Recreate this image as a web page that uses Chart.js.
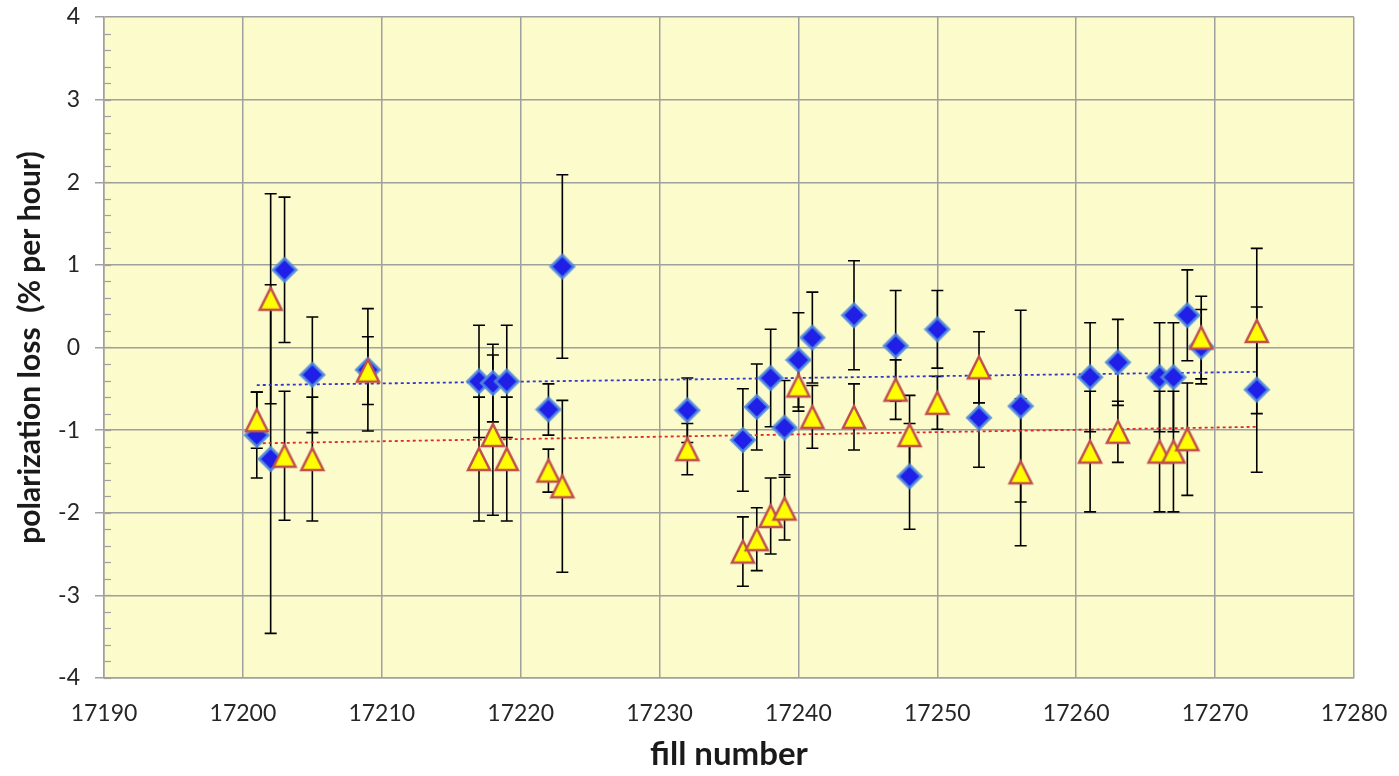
<!DOCTYPE html>
<html lang="en">
<head>
    <meta charset="UTF-8">
    <title>Polarization loss vs fill number</title>
    <script src="https://cdn.jsdelivr.net/npm/chart.js"></script>
    <style>
        body { margin: 0; background: #fff; }
        #wrap { width: 1399px; height: 776px; }
    </style>
</head>
<body>
    <div id="wrap"><canvas id="lossChart" width="1399" height="776"></canvas></div>

    <script>
// fill numbers (same for both series)
const fills = [17201, 17202, 17203, 17205, 17209, 17217, 17218, 17219, 17222, 17223,
               17232, 17236, 17237, 17238, 17239, 17240, 17241, 17244, 17247, 17248,
               17250, 17253, 17256, 17261, 17263, 17266, 17267, 17268, 17269, 17273];

// blue diamonds
const blueLoss = [-1.06, -1.35, 0.94, -0.33, -0.27, -0.41, -0.43, -0.41, -0.75, 0.98,
                  -0.76, -1.12, -0.72, -0.37, -0.97, -0.15, 0.12, 0.39, 0.02, -1.56,
                  0.22, -0.85, -0.71, -0.36, -0.18, -0.36, -0.36, 0.39, 0.01, -0.51];
const blueErr = [0.52, 2.11, 0.88, 0.70, 0.74, 0.68, 0.47, 0.68, 0.31, 1.11,
                 0.39, 0.62, 0.52, 0.59, 0.57, 0.57, 0.55, 0.66, 0.67, 0.64,
                 0.47, 0.60, 1.16, 0.66, 0.52, 0.66, 0.66, 0.55, 0.45, 1.00];

// yellow triangles
const yellowLoss = [-0.88, 0.59, -1.31, -1.35, -0.28, -1.35, -1.06, -1.35, -1.49, -1.68,
                    -1.23, -2.47, -2.32, -2.04, -1.95, -0.46, -0.84, -0.84, -0.51, -1.06,
                    -0.67, -0.24, -1.51, -1.26, -1.02, -1.26, -1.26, -1.11, 0.12, 0.20];
const yellowErr = [0.34, 1.27, 0.78, 0.75, 0.41, 0.75, 0.97, 0.75, 0.26, 1.04,
                   0.31, 0.42, 0.38, 0.46, 0.38, 0.31, 0.38, 0.40, 0.36, 0.48,
                   0.32, 0.43, 0.89, 0.73, 0.37, 0.73, 0.73, 0.68, 0.50, 1.00];

// linear trend lines (end points)
const trendX = [17201, 17273];
const blueTrend = [-0.455, -0.295];
const redTrend = [-1.16, -0.96];

const xTicks = [17190, 17200, 17210, 17220, 17230, 17240, 17250, 17260, 17270, 17280];
const yTicks = [-4, -3, -2, -1, 0, 1, 2, 3, 4];
const yMinorStep = 0.2;

function pts(xs, ys) {
    return xs.map((v, i) => ({ x: v, y: ys[i] }));
}

// marker images, centred on the point like the spreadsheet markers
function diamondMarker() {
    const c = document.createElement('canvas');
    c.width = 28; c.height = 28;
    const g = c.getContext('2d');
    g.beginPath();
    g.moveTo(14, 2.5); g.lineTo(25.5, 14); g.lineTo(14, 25.5); g.lineTo(2.5, 14); g.closePath();
    g.fillStyle = '#1f1fe8';
    g.fill();
    g.lineWidth = 3;
    g.strokeStyle = 'rgba(80,140,220,0.85)';
    g.stroke();
    return c;
}

function triangleMarker() {
    const c = document.createElement('canvas');
    c.width = 28; c.height = 28;
    const g = c.getContext('2d');
    g.beginPath();
    g.moveTo(14, 3); g.lineTo(25, 25); g.lineTo(3, 25); g.closePath();
    g.fillStyle = '#ffff00';
    g.fill();
    g.lineWidth = 2.5;
    g.strokeStyle = '#c0504d';
    g.stroke();
    return c;
}

// yellow plot area
const plotBg = {
    id: 'plotBg',
    beforeDraw(chart) {
        const { ctx, chartArea: a } = chart;
        ctx.save();
        ctx.fillStyle = '#fbfbcc';
        ctx.fillRect(a.left, a.top, a.right - a.left, a.bottom - a.top);
        ctx.restore();
    }
};

// error bars + minor y ticks
const errorBars = {
    id: 'errorBars',
    beforeDatasetsDraw(chart) {
        const { ctx, chartArea: a, scales: { x, y } } = chart;
        ctx.save();

        // minor ticks on the inside of the y axis
        ctx.strokeStyle = '#a0a0a0';
        ctx.lineWidth = 1.2;
        for (let v = -4; v < 4; v += yMinorStep) {
            const py = Math.round(y.getPixelForValue(v)) + 0.5;
            ctx.beginPath();
            ctx.moveTo(a.left, py);
            ctx.lineTo(a.left + 7, py);
            ctx.stroke();
        }

        ctx.strokeStyle = '#000';
        ctx.lineWidth = 1.6;
        [[blueLoss, blueErr], [yellowLoss, yellowErr]].forEach(([vals, errs]) => {
            fills.forEach((f, i) => {
                const px = x.getPixelForValue(f);
                const top = y.getPixelForValue(vals[i] + errs[i]);
                const bot = y.getPixelForValue(vals[i] - errs[i]);
                ctx.beginPath();
                ctx.moveTo(px, top); ctx.lineTo(px, bot);
                ctx.moveTo(px - 6, top); ctx.lineTo(px + 6, top);
                ctx.moveTo(px - 6, bot); ctx.lineTo(px + 6, bot);
                ctx.stroke();
            });
        });
        ctx.restore();
    }
};

const ctx = document.getElementById('lossChart').getContext('2d');

new Chart(ctx, {
    type: 'scatter',
    data: {
        datasets: [
            {
                label: 'triangles',
                data: pts(fills, yellowLoss),
                pointStyle: triangleMarker(),
                pointRadius: 12,
                order: 0
            },
            {
                label: 'diamonds',
                data: pts(fills, blueLoss),
                pointStyle: diamondMarker(),
                pointRadius: 12,
                order: 1
            },
            {
                label: 'blue trend',
                data: pts(trendX, blueTrend),
                showLine: true,
                borderColor: '#3535d0',
                borderWidth: 1.8,
                borderDash: [3, 3],
                pointRadius: 0,
                order: 2
            },
            {
                label: 'red trend',
                data: pts(trendX, redTrend),
                showLine: true,
                borderColor: '#e02a2a',
                borderWidth: 1.8,
                borderDash: [3, 3],
                pointRadius: 0,
                order: 3
            }
        ]
    },
    options: {
        responsive: false,
        animation: false,
        layout: { padding: { top: 17, right: 45, left: 0, bottom: 0 } },
        plugins: {
            legend: { display: false },
            tooltip: { enabled: false }
        },
        scales: {
            x: {
                type: 'linear',
                min: 17190,
                max: 17280,
                afterBuildTicks: s => { s.ticks = xTicks.map(v => ({ value: v })); },
                afterFit: s => { s.height = 98; s.paddingLeft = 0; s.paddingRight = 0; },
                grid: { color: '#a0a0a0', lineWidth: 1.5, drawTicks: false },
                border: { color: '#a0a0a0', width: 1.5 },
                ticks: {
                    color: '#262626',
                    font: { family: 'Lato', size: 23 },
                    padding: 22,
                    maxRotation: 0,
                    callback: v => String(v)
                },
                title: {
                    display: true,
                    text: 'fill number',
                    color: '#1a1a1a',
                    font: { family: 'Lato', size: 33, weight: 'bold' },
                    padding: { top: 0, bottom: 2 }
                }
            },
            y: {
                min: -4,
                max: 4,
                afterBuildTicks: s => { s.ticks = yTicks.map(v => ({ value: v })); },
                afterFit: s => { s.width = 104; s.paddingTop = 0; s.paddingBottom = 0; },
                grid: { color: '#a0a0a0', lineWidth: 1.5, tickLength: 9, tickColor: '#a0a0a0' },
                border: { color: '#a0a0a0', width: 1.5 },
                ticks: {
                    color: '#262626',
                    font: { family: 'Lato', size: 23 },
                    padding: 15
                },
                title: {
                    display: true,
                    text: 'polarization loss  (% per hour)',
                    color: '#1a1a1a',
                    font: { family: 'Lato', size: 30, weight: 'bold' },
                    padding: { top: 12, bottom: 0 }
                }
            }
        }
    },
    plugins: [plotBg, errorBars]
});
    </script>
</body>
</html>
